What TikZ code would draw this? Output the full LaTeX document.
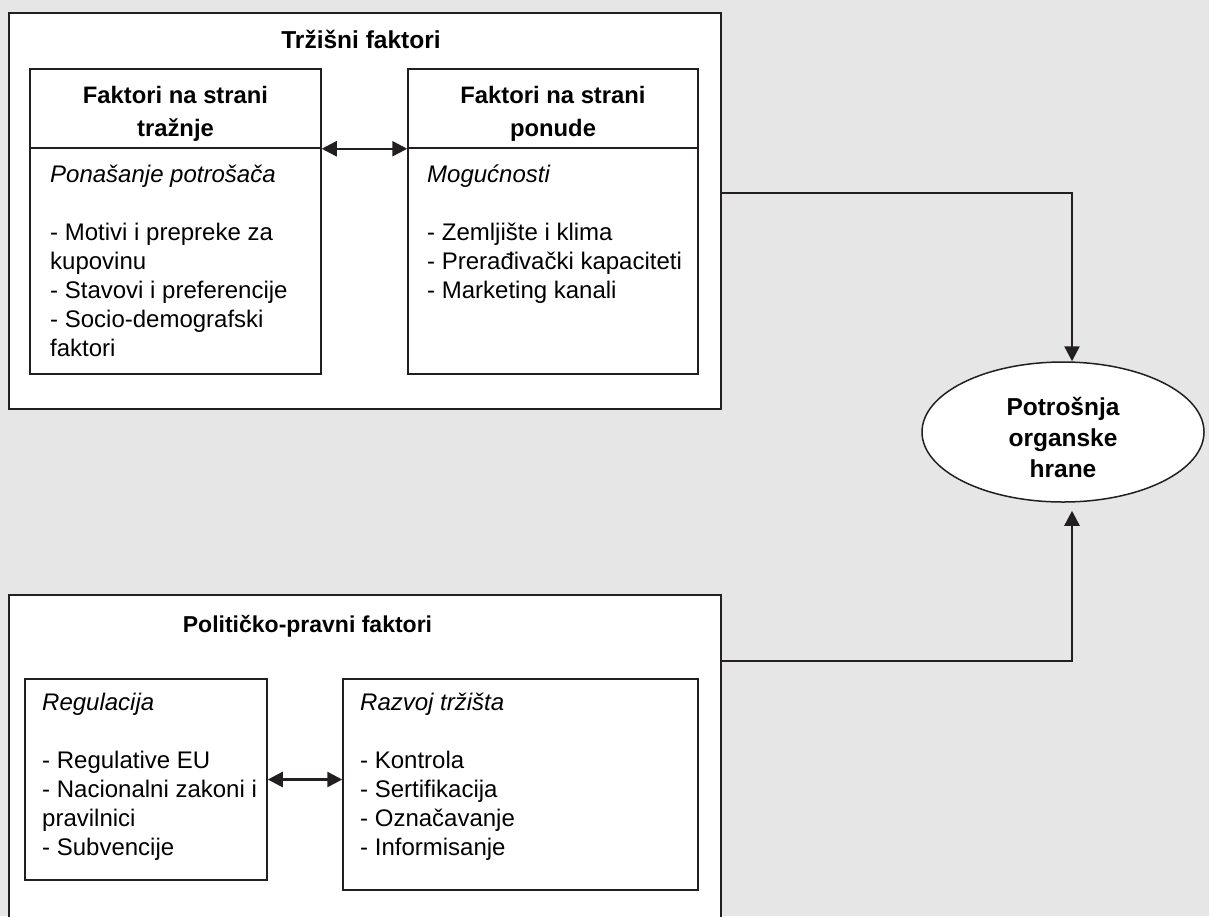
\documentclass[tikz,border=0pt]{standalone}
\usepackage{fontspec}
\setmainfont{Liberation Sans}
\usetikzlibrary{arrows.meta,shapes.geometric}

\definecolor{ink}{HTML}{231F20}
\definecolor{paper}{HTML}{E6E6E6}

\tikzset{
  frame/.style={draw=ink, line width=2pt, fill=white, inner sep=0pt},
  box/.style={draw=ink, line width=1.5pt, fill=white, inner sep=0pt},
  title/.style={font=\fontsize{24.5}{30}\selectfont\bfseries},
  head/.style={font=\fontsize{23.8}{33}\selectfont\bfseries, align=center},
  list/.style={font=\fontsize{24}{29}\selectfont, align=left, anchor=north west, inner sep=0pt},
  tip/.tip={Triangle[length=15pt,width=15pt]},
  link/.style={draw=ink, line width=2.5pt, -tip},
  both/.style={draw=ink, line width=2.5pt, tip-tip},
}

\begin{document}
\begin{tikzpicture}[x=1pt,y=-1pt]
  \useasboundingbox[fill=paper] (0,0) rectangle (1209,916);
  \clip (0,0) rectangle (1209,916);

  % trzisni faktori
  \node[frame, minimum width=712pt, minimum height=396pt] (trz) at (365,211) {};
  \node[title] (trzt) at (361,39.5) {Tržišni faktori};
  \node[box, minimum width=291pt, minimum height=79pt] (demh) at (175.5,108.5) {};
  \node[box, minimum width=291pt, minimum height=226pt] (demb) at (175.5,261) {};
  \node[box, minimum width=290pt, minimum height=79pt] (suph) at (553,108.5) {};
  \node[box, minimum width=290pt, minimum height=226pt] (supb) at (553,261) {};
  \node[head] (demht) at ([yshift=-5pt]demh.center) {Faktori na strani\\tražnje};
  \node[head] (supht) at ([yshift=-5pt]suph.center) {Faktori na strani\\ponude};
  \node[list] (demt) at (50,165) {\textit{Ponašanje potrošača}\\[29pt]
    - Motivi i prepreke za\\kupovinu\\- Stavovi i preferencije\\- Socio-demografski\\faktori};
  \node[list] (supt) at (427,165) {\textit{Mogućnosti}\\[29pt]
    - Zemljište i klima\\- Prerađivački kapaciteti\\- Marketing kanali};
  \draw[both] (demh.south east) -- (suph.south west);

  % politicko-pravni faktori
  \node[frame, minimum width=712pt, minimum height=335pt] (pol) at (365,762.5) {};
  \node[title, font=\fontsize{23}{30}\selectfont\bfseries] (polt) at (307.5,626) {Političko-pravni faktori};
  \node[box, minimum width=242pt, minimum height=201pt] (reg) at (146,779.5) {};
  \node[box, minimum width=355pt, minimum height=211pt] (raz) at (520.5,784.5) {};
  \node[list] (regt) at (42,693) {\textit{Regulacija}\\[29pt]
    - Regulative EU\\- Nacionalni zakoni i\\pravilnici\\- Subvencije};
  \node[list] (razt) at (360,693) {\textit{Razvoj tržišta}\\[29pt]
    - Kontrola\\- Sertifikacija\\- Označavanje\\- Informisanje};
  \draw[both] (reg.east) -- (reg.east -| raz.west);

  % potrosnja
  \node[ellipse, draw=ink, line width=1.5pt, fill=white, inner sep=0pt,
    minimum width=282pt, minimum height=140pt] (cons) at (1063,432) {};
  \node[head, font=\fontsize{24.5}{31}\selectfont\bfseries] (const) at ([yshift=-5pt]cons.center)
    {Potrošnja\\organske\\hrane};

  \draw[link] ([yshift=18pt]trz.east) -| ([xshift=9pt]cons.north);
  \draw[link] ([yshift=101.5pt]pol.east) -| ([shift={(9pt,-8pt)}]cons.south);
\end{tikzpicture}
\end{document}
